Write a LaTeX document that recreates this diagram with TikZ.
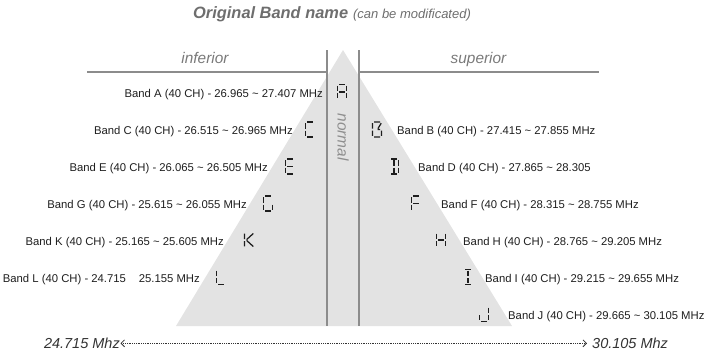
\documentclass[tikz,border=0pt]{standalone}
\usepackage{fontspec}
\setmainfont{Liberation Sans}
\usetikzlibrary{arrows.meta}
\definecolor{trigray}{HTML}{E3E3E3}
\definecolor{linegray}{HTML}{8C8C8C}
\definecolor{titlegray}{HTML}{6E6E6E}
\definecolor{softgray}{HTML}{7A7A7A}
\definecolor{normgray}{HTML}{8E8E8E}
\definecolor{inkblack}{HTML}{1E1E1E}
\definecolor{freqgray}{HTML}{333333}
\tikzset{
  guide/.style={draw=linegray, line width=1.1bp},
  titlebold/.style={anchor=base west, inner sep=0pt, text=titlegray, font=\fontsize{16.4bp}{18bp}\selectfont\bfseries\itshape},
  titlenote/.style={anchor=base west, inner sep=0pt, text=titlegray, font=\fontsize{13bp}{15bp}\selectfont\itshape},
  sidehead/.style={anchor=base, inner sep=0pt, text=softgray, font=\fontsize{15.4bp}{17bp}\selectfont\itshape},
  bandL/.style={anchor=base east, inner sep=0pt, text=inkblack, font=\fontsize{11.3bp}{13bp}\selectfont},
  bandR/.style={anchor=base west, inner sep=0pt, text=inkblack, font=\fontsize{11.3bp}{13bp}\selectfont},
  seg/.style={draw=inkblack, line width=1.25bp},
  freq/.style={inner sep=0pt, text=freqgray, font=\fontsize{14.5bp}{16bp}\selectfont\itshape},
  rangeline/.style={draw=freqgray, line width=0.6bp, dash pattern=on 0.6bp off 1.2bp,
    arrows={Straight Barb[length=3.5bp,width=7bp,line width=0.8bp]-Straight Barb[length=3.5bp,width=7bp,line width=0.8bp]},
    shorten <=0.5bp, shorten >=5bp}
}
% seven-segment pieces (glyph centred at origin, y downward)
\def\sgA{(-3,-7.5)--(3,-7.5)}
\def\sgB{(4.6,-6.3)--(4.6,-1)}
\def\sgC{(4.6,1)--(4.6,6.3)}
\def\sgD{(-3,7.5)--(3,7.5)}
\def\sgE{(-4.6,1)--(-4.6,6.3)}
\def\sgF{(-4.6,-6.3)--(-4.6,-1)}
\def\sgG{(-3,0)--(3,0)}
\def\sgM{(0,-6.3)--(0,-1) (0,1)--(0,6.3)}
\newcommand\lcdglyph[2]{\draw[seg,shift={#1}] #2;}
\begin{document}
\begin{tikzpicture}[x=1bp,y=-1bp]
\useasboundingbox (0,0) rectangle (707,354);
% triangle and guides
\fill[trigray] (343,50) -- (512,326) -- (176,326) -- cycle;
\draw[guide] (327,50) -- (327,326) (359,50) -- (359,326);
\draw[guide] (87,72) -- (327,72) (359,72) -- (599,72);
% title
\node[titlebold] (title) at (193,18.3) {Original Band name};
\node[titlenote] (note) at ([xshift=4.6bp]title.base east) {(can be modificated)};
% headings
\node[sidehead] (inf) at (205,63.3) {inferior};
\node[sidehead] (sup) at (478.5,63.3) {superior};
\node[sidehead, text=normgray, anchor=center, rotate=-90] (norm) at (343,137) {normal};
% left band labels
\node[bandL] (bA) at (323,97.5) {Band A (40 CH) - 26.965 \textasciitilde{} 27.407 MHz};
\node[bandL] (bC) at (293,134.5) {Band C (40 CH) - 26.515 \textasciitilde{} 26.965 MHz};
\node[bandL] (bE) at (268,171.5) {Band E (40 CH) - 26.065 \textasciitilde{} 26.505 MHz};
\node[bandL] (bG) at (247,208.5) {Band G (40 CH) - 25.615 \textasciitilde{} 26.055 MHz};
\node[bandL] (bK) at (224,245) {Band K (40 CH) - 25.165 \textasciitilde{} 25.605 MHz};
\node[bandL] (bL) at (200,282) {Band L (40 CH) - 24.715 \phantom{\textasciitilde} 25.155 MHz};
% right band labels
\node[bandR] (bB) at (397,134.5) {Band B (40 CH) - 27.415 \textasciitilde{} 27.855 MHz};
\node[bandR] (bD) at (418,171.5) {Band D (40 CH) - 27.865 \textasciitilde{} 28.305};
\node[bandR] (bF) at (441,208.5) {Band F (40 CH) - 28.315 \textasciitilde{} 28.755 MHz};
\node[bandR] (bH) at (463,245) {Band H (40 CH) - 28.765 \textasciitilde{} 29.205 MHz};
\node[bandR] (bI) at (485,282) {Band I (40 CH) - 29.215 \textasciitilde{} 29.655 MHz};
\node[bandR] (bJ) at (508,319) {Band J (40 CH) - 29.665 \textasciitilde{} 30.105 MHz};
% seven-segment letters
\lcdglyph{(342,92)}{\sgA\sgB\sgC\sgE\sgF\sgG}
\lcdglyph{(310,129.5)}{\sgA\sgD\sgE\sgF}
\lcdglyph{(290,166.5)}{\sgA\sgD\sgE\sgF\sgG}
\lcdglyph{(268,203.5)}{\sgA\sgC\sgD\sgE\sgF}
\lcdglyph{(249,240)}{\sgE\sgF (4.3,-6.5)--(-2.4,-0.4) (-2.4,0.4)--(4.3,6.5)}
\lcdglyph{(221,277)}{\sgD\sgE\sgF}
\lcdglyph{(377,129.5)}{\sgA\sgC\sgD\sgE\sgF (0.6,0)--(3,0) (4.2,-6.3)--(1,-1)}
\lcdglyph{(394,166.5)}{\sgA\sgB\sgC\sgD\sgM}
\lcdglyph{(416,203.5)}{\sgA\sgE\sgF\sgG}
\lcdglyph{(441,240)}{\sgB\sgC\sgE\sgF\sgG}
\lcdglyph{(468,277)}{\sgA\sgD\sgM}
\lcdglyph{(484,314)}{\sgB\sgC\sgD\sgE}
% frequency range
\node[freq, anchor=base east] (lo) at (120,348.5) {24.715 Mhz};
\node[freq, anchor=base west] (hi) at (592,348.5) {30.105 Mhz};
\draw[rangeline] (lo) -- (hi);
\end{tikzpicture}
\end{document}
